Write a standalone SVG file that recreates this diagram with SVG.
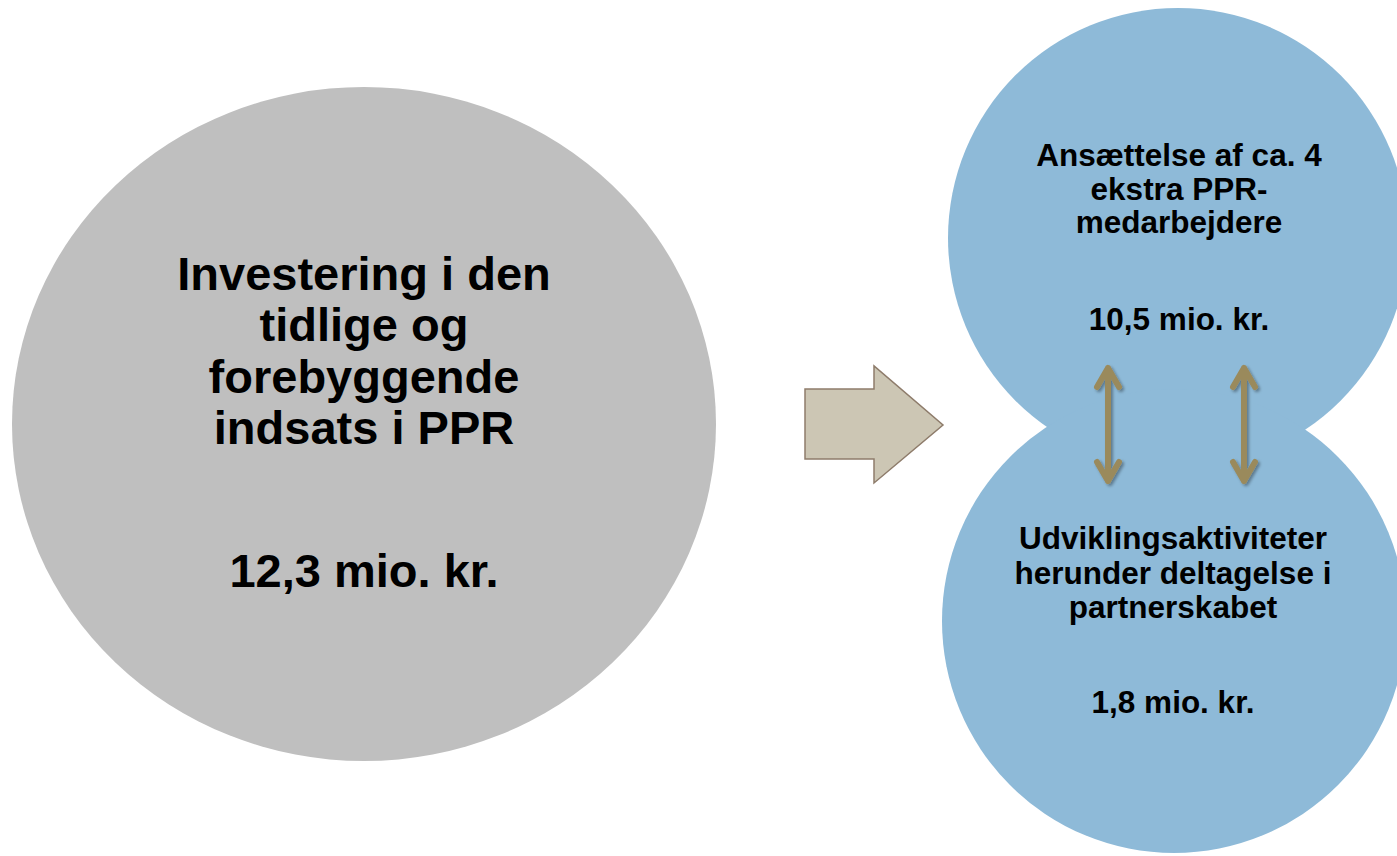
<svg xmlns="http://www.w3.org/2000/svg" width="1397" height="856" viewBox="0 0 1397 856">
<defs>
<style>
.t{font-family:"Liberation Sans",Arial,sans-serif;font-weight:bold;fill:#000;text-anchor:middle}
.big{font-size:47px}
.sm{font-size:31.5px}
.dbl{fill:none;stroke:#9A8A5C;stroke-width:6;stroke-linecap:round;stroke-linejoin:round}
</style>
<filter id="sh" x="-50%" y="-20%" width="200%" height="140%">
<feGaussianBlur in="SourceAlpha" stdDeviation="1.5"/>
<feOffset dx="1.5" dy="2" result="b"/>
<feFlood flood-color="#000" flood-opacity="0.35"/>
<feComposite in2="b" operator="in"/>
<feMerge><feMergeNode/><feMergeNode in="SourceGraphic"/></feMerge>
</filter>
</defs>
<rect width="1397" height="856" fill="#fff"/>
<g id="investering">
<ellipse cx="364" cy="424" rx="352" ry="337" fill="#BFBFBF"/>
<text class="t big" x="364"><tspan x="364" y="290">Investering i den</tspan><tspan x="364" y="341">tidlige og</tspan><tspan x="364" y="393">forebyggende</tspan><tspan x="364" y="444">indsats i PPR</tspan><tspan x="364" y="587">12,3 mio. kr.</tspan></text>
</g>
<g id="pil">
<polygon points="805,389 874,389 874,366 943,425 874,483 874,459 805,459" fill="#CCC6B4" stroke="#8E7C6B" stroke-width="1.5" stroke-linejoin="miter"/>
</g>
<g id="cirkler">
<circle cx="1178" cy="238" r="230" fill="#8EBAD8"/>
<circle cx="1174" cy="621" r="232" fill="#8EBAD8"/>
</g>
<g id="ansaettelse">
<text class="t sm"><tspan x="1179" y="166">Ansættelse af ca. 4</tspan><tspan x="1179" y="200">ekstra PPR-</tspan><tspan x="1179" y="233">medarbejdere</tspan><tspan x="1179" y="330">10,5 mio. kr.</tspan></text>
</g>
<g id="udvikling">
<text class="t sm"><tspan x="1173" y="549">Udviklingsaktiviteter</tspan><tspan x="1173" y="584">herunder deltagelse i</tspan><tspan x="1173" y="618">partnerskabet</tspan><tspan x="1173" y="713">1,8 mio. kr.</tspan></text>
</g>
<g id="forbindelser" filter="url(#sh)">
<path class="dbl" d="M1108,368 V481 M1097,387 L1108,368 L1119,387 M1097,462 L1108,481 L1119,462"/>
<path class="dbl" d="M1244,368 V481 M1233,387 L1244,368 L1255,387 M1233,462 L1244,481 L1255,462"/>
</g>
</svg>
